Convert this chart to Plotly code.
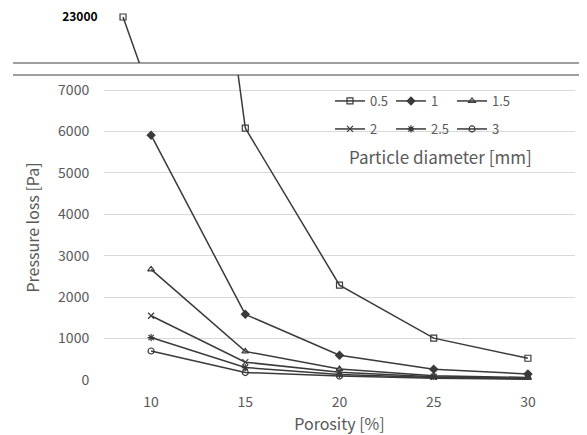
import plotly.graph_objects as go

porosity = [10, 15, 20, 25, 30]
d_labels = ["0.5", "1", "1.5", "2", "2.5", "3"]
p_05 = [23000, 6080, 2290, 1010, 525]
p_1 = [5910, 1585, 598, 258, 145]
p_15 = [2670, 690, 265, 105, 60]
p_2 = [1550, 430, 185, 80, 40]
p_25 = [1025, 300, 135, 60, 30]
p_3 = [700, 180, 95, 40, 20]
series = [p_05, p_1, p_15, p_2, p_25, p_3]
symbols = ["square-open", "diamond", "triangle-up-open", "x-thin-open", "asterisk-open", "circle-open"]
y_ticks = [0, 1000, 2000, 3000, 4000, 5000, 6000, 7000]
top_tick = [23000]

LINE = "#3a3a3a"
TXT = "#595959"
FONT = "Noto Sans CJK KR"

fig = go.Figure()
for i, (name, ys, sym) in enumerate(zip(d_labels, series, symbols)):
    fig.add_trace(go.Scatter(
        x=porosity, y=ys, name=name, mode="lines+markers",
        line=dict(color=LINE, width=1.5),
        marker=dict(symbol=sym, size=6, color=LINE, line=dict(color=LINE, width=1.2)),
        legend="legend" if i < 3 else "legend2",
    ))

# upper (broken-axis) panel showing the 23000 value
fig.add_trace(go.Scatter(
    x=porosity, y=p_05, mode="lines+markers", showlegend=False,
    xaxis="x2", yaxis="y2",
    line=dict(color=LINE, width=1.5),
    marker=dict(symbol="square-open", size=6, color=LINE, line=dict(color=LINE, width=1.2)),
))

# page body has an 8px margin: figure is 579x427 placed at (8, 8)
H = 372.0


def py(ref_y):
    return (380 - ref_y) / H


def px(ref_x):
    return (ref_x - 104) / 471


fig.update_layout(
    width=579, height=427,
    margin=dict(l=96, r=12, t=0, b=55),
    paper_bgcolor="white", plot_bgcolor="white",
    font=dict(family=FONT, color=TXT, size=13),
    xaxis=dict(domain=[0, 1], range=[7.5, 32.5], tickvals=porosity, showgrid=False,
               zeroline=False, showline=False, ticks="outside", ticklen=9,
               tickcolor="rgba(0,0,0,0)", tickfont=dict(size=14, color=TXT), automargin=False,
               title=dict(text="Porosity [%]", font=dict(size=16, color=TXT), standoff=2)),
    yaxis=dict(domain=[0, py(75)], range=[0, 7362], tickvals=y_ticks,
               showgrid=True, gridcolor="#d9d9d9", gridwidth=1, zeroline=False,
               showline=False, ticks="outside", ticklen=11, tickcolor="rgba(0,0,0,0)",
               tickfont=dict(size=14, color=TXT), automargin=False,
               title=dict(text="Pressure loss [Pa]", font=dict(size=16, color=TXT), standoff=14)),
    xaxis2=dict(domain=[0, 1], range=[8.99, 33.99], anchor="y2", visible=False),
    yaxis2=dict(domain=[py(63), 1], range=[20074, 23572], anchor="x2",
                tickvals=top_tick, ticktext=[str(v) for v in top_tick],
                showgrid=False, zeroline=False, showline=False, automargin=False,
                ticks="outside", ticklen=3, tickcolor="rgba(0,0,0,0)",
                ticklabeloverflow="allow",
                tickfont=dict(size=12, color="#000000", weight="bold")),
    legend=dict(orientation="h", x=px(330), y=py(86), xanchor="left", yanchor="top",
                bgcolor="rgba(0,0,0,0)", font=dict(size=13, color=TXT), itemwidth=30,
                entrywidth=16, entrywidthmode="pixels", tracegroupgap=0),
    legend2=dict(orientation="h", x=px(330), y=py(114), xanchor="left", yanchor="top",
                 bgcolor="rgba(0,0,0,0)", font=dict(size=13, color=TXT), itemwidth=30,
                 entrywidth=16, entrywidthmode="pixels", tracegroupgap=0),
    annotations=[dict(text="Particle diameter [mm]", xref="paper", yref="paper",
                      x=px(440), y=py(156), xanchor="center", yanchor="middle", showarrow=False,
                      font=dict(size=17, color=TXT))],
    shapes=[
        dict(type="line", xref="paper", yref="paper", x0=px(13), x1=px(587),
             y0=py(63), y1=py(63), line=dict(color="#404040", width=1.2)),
        dict(type="line", xref="paper", yref="paper", x0=px(13), x1=px(587),
             y0=py(75), y1=py(75), line=dict(color="#404040", width=1.2)),
    ],
)

fig.write_html("out.html")
